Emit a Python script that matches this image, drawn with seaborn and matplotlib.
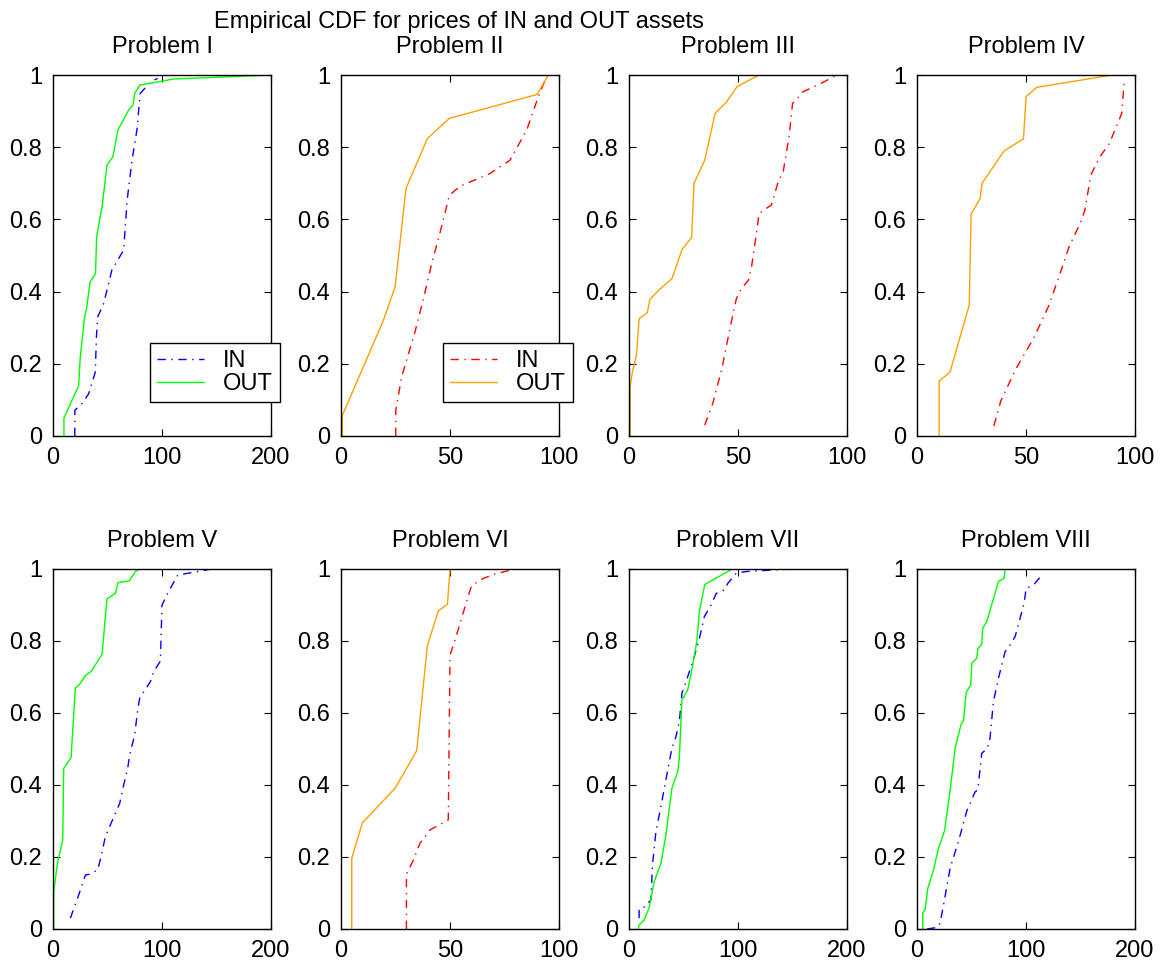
import numpy as np
import pandas as pd
import matplotlib
matplotlib.use('Agg')
import matplotlib.pyplot as plt
import seaborn as sns

# Data (price, cumulative fraction)
titles = ['Problem I', 'Problem II', 'Problem III', 'Problem IV',
          'Problem V', 'Problem VI', 'Problem VII', 'Problem VIII']
x_max = [200, 100, 100, 100, 200, 100, 200, 200]
x_ticks_200 = [0, 100, 200]
x_ticks_100 = [0, 50, 100]
y_ticks = [0, 0.2, 0.4, 0.6, 0.8, 1.0]
y_tick_labels = ['0', '0.2', '0.4', '0.6', '0.8', '1']

p1_in_x = [20, 20, 26.6, 32.7, 38.8, 39.8, 41, 46.5, 54, 64.8, 68, 72.5, 77, 80, 89.3, 94, 96]
p1_in_y = [0, 0.071, 0.09, 0.117, 0.177, 0.274, 0.33, 0.367, 0.46, 0.515, 0.653, 0.764, 0.848, 0.949, 0.98, 0.988, 0.99]
p1_out_x = [10, 10, 23.5, 25, 29, 31, 34, 39, 40, 45, 49.5, 55, 59.6, 69.4, 73.4, 75, 79.5, 110.7, 200]
p1_out_y = [0, 0.05, 0.139, 0.219, 0.33, 0.357, 0.427, 0.45, 0.552, 0.635, 0.75, 0.774, 0.848, 0.903, 0.917, 0.949, 0.972, 0.989, 1.0]

p2_in_x = [25.1, 25.1, 27.8, 33.9, 37.8, 41.6, 45.7, 49.7, 54.6, 68.3, 77.5, 85.2, 90.5, 94.6]
p2_in_y = [0, 0.071, 0.164, 0.288, 0.38, 0.478, 0.57, 0.667, 0.692, 0.727, 0.764, 0.848, 0.94, 1.0]
p2_out_x = [0.6, 0.6, 19.4, 24.8, 29.8, 39.6, 49.7, 89.9, 95.1]
p2_out_y = [0, 0.057, 0.32, 0.413, 0.686, 0.824, 0.88, 0.946, 1.0]

p3_in_x = [34.7, 38.4, 42.7, 45.8, 49.2, 51.5, 54.8, 56.2, 58.4, 59.6, 61.4, 65.3, 68.4, 70.7, 73.4, 75, 79.9, 87.6, 95.2]
p3_in_y = [0.03, 0.09, 0.19, 0.284, 0.38, 0.408, 0.432, 0.469, 0.56, 0.615, 0.624, 0.64, 0.704, 0.732, 0.829, 0.921, 0.954, 0.975, 1.0]
p3_out_x = [0.5, 0.5, 1.5, 3.4, 4.6, 8.4, 9.5, 14.3, 19.7, 24.3, 28.7, 29.8, 34.7, 39.5, 44.5, 49.6, 59.6]
p3_out_y = [0, 0.136, 0.177, 0.224, 0.325, 0.342, 0.378, 0.408, 0.436, 0.517, 0.55, 0.70, 0.764, 0.894, 0.924, 0.968, 1.0]

p4_in_x = [35.2, 38.4, 45.4, 53.4, 60.2, 65.6, 69.7, 74.8, 77, 79.7, 83.9, 88.2, 93.9, 95.1]
p4_in_y = [0.028, 0.097, 0.187, 0.27, 0.358, 0.45, 0.524, 0.589, 0.626, 0.723, 0.774, 0.81, 0.894, 0.99]
p4_out_x = [10.1, 10.1, 15.1, 19.7, 23.9, 24.8, 28.9, 29.8, 39.9, 48.8, 50, 54.9, 89.6]
p4_out_y = [0, 0.152, 0.177, 0.274, 0.362, 0.615, 0.658, 0.70, 0.79, 0.823, 0.94, 0.966, 1.0]

p5_in_x = [15.9, 23.5, 29.7, 33.6, 41, 44, 48, 52.6, 61.2, 64.8, 68.5, 70.3, 74.9, 77.7, 79.5, 89.3, 92.4, 98.5, 100, 106, 114.4, 145.9]
p5_in_y = [0.03, 0.094, 0.15, 0.152, 0.164, 0.2, 0.256, 0.289, 0.349, 0.4, 0.446, 0.483, 0.539, 0.608, 0.641, 0.687, 0.715, 0.744, 0.9, 0.937, 0.983, 1.0]
p5_out_x = [0.6, 0.6, 4.3, 8.9, 9.8, 16.5, 20.5, 25, 29.7, 34.9, 45, 49.5, 57.2, 59.6, 70, 75.5, 79.5]
p5_out_y = [0, 0.104, 0.187, 0.247, 0.446, 0.476, 0.669, 0.682, 0.704, 0.715, 0.763, 0.917, 0.932, 0.962, 0.967, 0.993, 1.0]

p6_in_x = [30, 30, 33.2, 36.2, 40.8, 49.2, 50, 52.3, 54.6, 58.4, 59.9, 65.3, 70.6, 79.8]
p6_in_y = [0, 0.152, 0.192, 0.238, 0.275, 0.303, 0.761, 0.803, 0.849, 0.926, 0.954, 0.974, 0.986, 1.0]
p6_out_x = [4.9, 4.9, 9.8, 24.8, 34.7, 39.6, 44.6, 48.8, 50]
p6_out_y = [0, 0.196, 0.295, 0.391, 0.495, 0.787, 0.883, 0.902, 1.0]

p7_in_x = [9.2, 9.2, 14.7, 20, 21.5, 24.6, 29.2, 36.9, 39.3, 43, 46.1, 48.5, 52.8, 59, 64.5, 69.1, 75.3, 79.9, 87.6, 90.6, 98.3, 107.5, 132, 149]
p7_in_y = [0.03, 0.056, 0.062, 0.081, 0.178, 0.27, 0.34, 0.465, 0.502, 0.534, 0.576, 0.655, 0.692, 0.748, 0.807, 0.868, 0.9, 0.932, 0.942, 0.96, 0.988, 0.993, 0.997, 1.0]
p7_out_x = [8.6, 9.2, 13.8, 18.4, 23, 29.2, 33.8, 39.3, 44.6, 46.1, 48.5, 53.8, 58.4, 62.1, 64.5, 69.4, 94.6]
p7_out_y = [0, 0.011, 0.025, 0.059, 0.131, 0.182, 0.261, 0.391, 0.437, 0.474, 0.636, 0.664, 0.733, 0.798, 0.881, 0.957, 1.0]

p8_in_x = [9, 18, 21.1, 24.8, 30.3, 37.9, 45.6, 53.2, 55.7, 59.3, 64.5, 66.9, 70, 74.6, 80.7, 85.3, 89.9, 98.2, 100, 106.7, 114.4]
p8_in_y = [0, 0.004, 0.016, 0.076, 0.169, 0.243, 0.328, 0.381, 0.386, 0.488, 0.502, 0.53, 0.631, 0.696, 0.77, 0.789, 0.812, 0.905, 0.946, 0.955, 0.983]
p8_out_x = [5.2, 5.2, 7.3, 9.8, 15, 19.6, 25.1, 30.3, 34.9, 40.4, 42.5, 45, 49.2, 50.2, 54.7, 55.7, 59.3, 60.2, 63.9, 74.6, 79.8, 80.7, 84.7]
p8_out_y = [0, 0.044, 0.053, 0.113, 0.164, 0.224, 0.272, 0.386, 0.503, 0.569, 0.578, 0.657, 0.678, 0.738, 0.752, 0.778, 0.791, 0.835, 0.854, 0.965, 0.974, 1.0, 1.0]

in_x = [p1_in_x, p2_in_x, p3_in_x, p4_in_x, p5_in_x, p6_in_x, p7_in_x, p8_in_x]
in_y = [p1_in_y, p2_in_y, p3_in_y, p4_in_y, p5_in_y, p6_in_y, p7_in_y, p8_in_y]
out_x = [p1_out_x, p2_out_x, p3_out_x, p4_out_x, p5_out_x, p6_out_x, p7_out_x, p8_out_x]
out_y = [p1_out_y, p2_out_y, p3_out_y, p4_out_y, p5_out_y, p6_out_y, p7_out_y, p8_out_y]

# blue/green pair or red/orange pair per problem
in_colors = ['#0000FF', '#FF0000', '#FF0000', '#FF0000', '#0000FF', '#FF0000', '#0000FF', '#0000FF']
out_colors = ['#00FF00', '#FFA000', '#FFA000', '#FFA000', '#00FF00', '#FFA000', '#00FF00', '#00FF00']

sns.set_style('white')
plt.rcParams['font.family'] = ['Liberation Sans', 'DejaVu Sans']
plt.rcParams['axes.edgecolor'] = 'black'
plt.rcParams['axes.linewidth'] = 1.0
plt.rcParams['text.color'] = 'black'
plt.rcParams['axes.labelcolor'] = 'black'

fig = plt.figure(figsize=(11.68, 9.68), dpi=100)

left0, width, step = 0.0454, 0.1866, 0.2466
rows = [(0.5496, 0.3729), (0.0403, 0.3719)]
fs = 17

for i in range(8):
    r, c = divmod(i, 4)
    bottom, height = rows[r]
    ax = fig.add_axes([left0 + c * step, bottom, width, height])

    sns.lineplot(x=in_x[i], y=in_y[i], ax=ax, sort=False, estimator=None,
                 color=in_colors[i], linewidth=1.0, linestyle=(0, (6, 4, 1, 4)),
                 label='IN')
    sns.lineplot(x=out_x[i], y=out_y[i], ax=ax, sort=False, estimator=None,
                 color=out_colors[i], linewidth=1.0, label='OUT')

    ax.set_xlim(0, x_max[i])
    ax.set_ylim(0, 1)
    ax.set_xticks(x_ticks_200 if x_max[i] == 200 else x_ticks_100)
    ax.set_yticks(y_ticks)
    ax.set_yticklabels(y_tick_labels)
    ax.tick_params(direction='in', top=True, right=True, bottom=True, left=True,
                   length=5, width=0.8, pad=8, labelsize=fs, colors='black')
    ax.set_xlabel('')
    ax.set_ylabel('')
    ax.set_title(titles[i], fontsize=fs, pad=16, color='black')

    if i in (0, 1):
        anchor = (0.445, 0.094) if i == 0 else (0.468, 0.094)
        leg = ax.legend(loc='lower left', bbox_to_anchor=anchor, fontsize=fs,
                        frameon=True, fancybox=False, framealpha=1,
                        borderaxespad=0, handlelength=2.0, labelspacing=0.05,
                        borderpad=0.3)
        leg.get_frame().set_edgecolor('black')
        leg.get_frame().set_linewidth(1.0)
        for t in leg.get_texts():
            t.set_color('black')
    else:
        ax.get_legend().remove()

fig.text(459 / 1168, 1 - 28 / 968, 'Empirical CDF for prices of IN and OUT assets',
         ha='center', va='baseline', fontsize=fs, color='black')

plt.savefig('out.png', dpi=100, facecolor='white')
